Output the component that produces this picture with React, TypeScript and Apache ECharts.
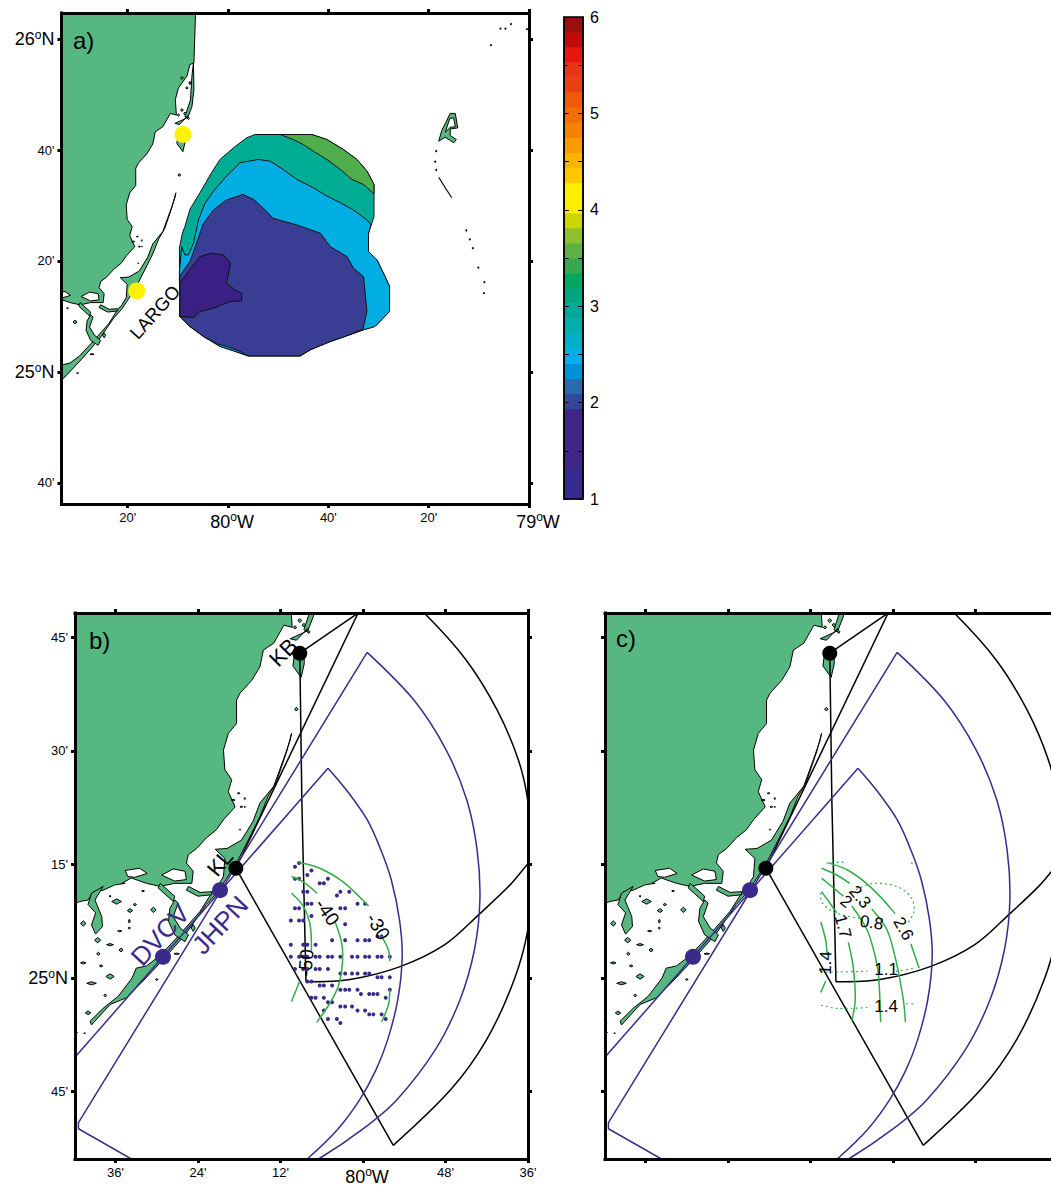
import React, { useEffect, useRef } from "react";
import * as echarts from "echarts";

type Pt = number[];
// All geography is in minutes of arc: longitude relative to 80°W (east positive), latitude relative to 25°N.
const mainland: Pt[] = [[-6.4,67],[-6.8,55.7],[-7.6,55.4],[-8.2,53.3],[-9.9,51.2],[-10.5,49.1],[-10.3,46.3],[-11.5,46.6],[-13,44.2],[-14.5,43.3],[-15,41.1],[-16.2,39.3],[-17.9,37.6],[-18.4,36.7],[-18.4,33.6],[-19.6,32.3],[-20.3,30.1],[-20.1,27.5],[-19.1,26.2],[-19.6,24.6],[-18.6,22.6],[-20.3,20.9],[-21.3,19.6],[-22.8,18.5],[-24.2,17.1],[-25.4,16.3],[-25.7,15.2],[-24.7,14.1],[-24.9,12.5],[-27.4,12.5],[-29.5,12.1],[-31.5,12.5],[-33.7,13.2],[-35.1,12.5],[-34.6,12.5],[-36.1,12.3],[-37.8,11.6],[-39.2,11.4],[-40,10.3],[-41.2,10.1],[-43,9.5],[-43,67]];
const lagoons: Pt[][] = [
  [[-29.3,13.6],[-27.6,14.4],[-25.9,14.1],[-25.7,13],[-27.4,12.8]],
  [[-34.6,14.2],[-32.5,14.5],[-31.4,13.8],[-33.2,13.3],[-34.2,13.4]],
  [[44.2,45.7],[45,45.8],[45.3,44.2],[44.3,44.1],[43.3,43.2]],
];
const largoKey: Pt[] = [[-10.4,32.3],[-11.1,29.9],[-12.6,25.9],[-13.8,24],[-15,21.3],[-16.2,19.1],[-18.4,15.2],[-19.8,13.2],[-21.3,11.2],[-22.8,9.7],[-25.7,5.9],[-29.1,2.4],[-32,-0.4],[-34.4,-2.6],[-36.8,-3.5],[-39.5,-6.2],[-39.7,-5.7],[-37.8,-4],[-35.6,-2.4],[-33.6,0],[-33,1.3],[-31.5,1.6],[-29.6,2.9],[-26.9,5.5],[-23.7,8.8],[-21.9,11.4],[-21.3,11.9],[-20.3,13.4],[-20.1,15.8],[-21.5,17],[-19.8,17.1],[-17.7,18.2],[-16,20.7],[-15,23.1],[-13,25.3],[-11.6,28.8],[-10.6,31.4]];
const eastStrip: Pt[] = [[-6.9,55.7],[-6.8,50.9],[-7.2,47.8],[-8.1,45.7],[-8.6,46],[-7.5,49],[-7.2,53.3]];
const northKey: Pt[] = [[-8.55,43.3],[-8.55,41.5],[-9,39.7],[-10.2,41.2],[-9.9,43.3]];
const northBit: Pt[] = [[-10.6,44.8],[-8.4,45.7],[-8,46.2],[-9.7,44.6]];
const sound1: Pt[] = [[-25.4,12.1],[-23.7,11.3],[-22,11.4],[-22,11],[-24,10.8],[-25.7,11.6]];
const sound2: Pt[] = [[-27.4,10.3],[-26.9,9.9],[-27.6,8.1],[-26.6,6.6],[-25.4,5.7],[-25.9,4.8],[-27.4,5.7],[-28.3,7.5],[-28.1,9.2]];
const sound3: Pt[] = [[-29.5,12.5],[-27.4,10.8],[-27.6,10.1],[-29.8,11.9]];
const sound4: Pt[] = [[-39.5,11.2],[-37.8,12.1],[-39,10.3],[-38,8.1],[-37.9,6.8],[-38.9,5.8],[-39.5,7],[-38.9,8.6],[-40,9.7]];
const bimini: Pt[] = [[42,41.6],[42.6,43.5],[44.3,46.6],[45.3,46.6],[45.8,44],[44.3,43.8],[44.3,42.6],[45.5,41.9],[45,41.3],[43.3,42.3]];
// lon, lat, half-width, half-height
const islets: number[][] = [[-35.85,10.1,.7,.35],[-33.9,8.9,.4,.25],[-33.2,9.7,.25,.15],[-30.5,9,.4,.35],[-34,7.5,.15,.25],[-34,6.6,.15,.15],[-35.4,6.2,.3,.1],[-40.7,7.2,.4,.35],[-38.6,5,.45,.35],[-36.8,4.4,.5,.15],[-35.2,3.7,.3,.25],[-38.5,3.2,.25,.2],[-40.7,2,.4,.15],[-38.1,1.6,.25,.15],[-36.8,.2,.6,.35],[-39.5,-.7,.7,.2],[-37.5,-2.3,.2,.2],[-40,-4.6,.4,.25],[-41.8,-6,.15,.25],[-41.7,-7.2,.15,.15],[-40.5,-7.3,.1,.1],[-30,-.2,.2,.1],[-27.1,3.2,.4,.1],[-24.7,6.6,.3,.45],[-9.7,35.5,.25,.25],[-18.1,24.4,.2,.08],[-17.2,23.7,.1,.15],[-18.9,23.5,.3,.1],[-17.7,22.6,.2,.1],[-17.2,22.6,.1,.1],[-17.9,19.6,.1,.1],[-36.8,10.8,.15,.1],[-32,11.5,.2,.1],[-9.2,53,.3,.25],[-7.6,52.1,.2,.3],[-8.2,51.2,.25,.2],[-9.2,47.2,.3,.25],[-8.6,46.6,.25,.25],[-9.9,46.3,.25,.2],[-7.9,45.7,.2,.2]];
const reefDots: Pt[] = [[41.5,39.8],[41.3,37.9],[41.5,36.4],[47.5,25.5],[48.2,23.9],[48.8,22.3],[49.9,18.8],[51.1,16.2],[51,14.2],[54.3,61.9],[55.3,61.9],[56.4,62.7],[52.4,58.9],[59.6,61.8]];
const reefLine: Pt[] = [[42,35.1],[43.3,33.2],[44.6,31.4]];

const contourOuter: Pt[] = [[5.4,42.8],[16.7,42.8],[19.7,41.9],[23,40.1],[25.7,38.3],[27.7,36.2],[29.1,33.8],[29.1,28],[28,25],[28,21.7],[29.7,20.2],[31.3,17.2],[32.2,15.4],[32.2,10.9],[29.3,8.2],[27,7.6],[23.3,6.4],[20.4,5.5],[16.4,4],[14.4,2.9],[4,2.9],[1.1,3.8],[-1.6,4.6],[-4.9,6.4],[-7.6,8.2],[-9.6,10],[-9.7,22.3],[-9.1,25],[-8.6,26.2],[-7.6,29.3],[-5.6,32.3],[-3.3,35.9],[-1.6,38.3],[1.1,40.4],[3.7,42.2]];
const contourGreen: Pt[] = [[10.4,42.8],[16.7,42.8],[19.7,41.9],[23,40.1],[25.7,38.3],[27.7,36.2],[29.1,33.8],[29.1,32.1],[27,33.8],[24.7,34.7],[22.4,36.5],[19.7,38.3],[17,39.8],[15,41],[13,41.9]];
const contourSky: Pt[] = [[-9.25,22.6],[-8.6,21.1],[-7.9,21.1],[-6.9,23.2],[-5.9,27.4],[-4.6,30.4],[-2.9,32.6],[-0.3,35.3],[2.4,37.7],[6,38.3],[8.4,38],[11,36.5],[13.7,34.7],[17,33.2],[19.7,31.7],[22.4,30.5],[25,29.2],[27.7,27.4],[28.5,26.5],[28,25],[28,21.7],[29.7,20.2],[31.3,17.2],[32.2,15.4],[32.2,10.9],[29.3,8.2],[27,7.6],[23.3,6.4],[20.4,5.5],[16.4,4],[14.4,2.9],[4,2.9],[1.1,3.8],[-1.6,4.6],[-4.9,6.4],[-7.6,8.2],[-9.6,10],[-9.7,18]];
const contourDark: Pt[] = [[-9.05,18.1],[-7.6,19.9],[-6.3,23.2],[-4.9,26.8],[-2.9,29.2],[-0.3,31],[3,32],[5.1,31.1],[7.4,29.2],[9,27.7],[13.7,26.5],[18.4,25],[20.4,22.6],[23.7,20.8],[25,18.7],[27,17.2],[27.7,10.9],[26.9,7.7],[23.3,6.4],[20.4,5.5],[16.4,4],[14.4,2.9],[4,2.9],[2.4,3.7],[-0.3,4.6],[-2.3,5.1],[-4.9,6.4],[-7.6,8.2],[-9.6,10],[-9.7,17]];
const contourIndigo: Pt[] = [[-9.6,16],[-7.6,18.4],[-5.6,20.8],[-3.3,21.4],[-0.9,21.1],[0.5,19.6],[-0.3,16],[1.4,14.8],[2.7,14.2],[2.7,12.8],[0.4,12.7],[-2.9,11.5],[-5.6,10.9],[-6.9,9.8],[-9.6,10]];

const siteKB: Pt = [-9.2,42.9];
const siteKL: Pt = [-18.5,14.5];
const siteJHPN: Pt = [-20.8,11.6];
const siteDVCV: Pt = [-29.1,2.8];
const sitesLargo: Pt[] = [[-9,42.8],[-18.2,14.6]];

const beamKBnorth: Pt[] = [siteKB,[0.9,49.2]];
const beamKLnorth: Pt[] = [siteKL,[0.5,50.5]];
const beamKBsouth: Pt[] = [siteKB,[-8.9,23.5],[-8.3,-0.5]];
const beamKBarc: Pt[] = [[-8.3,-0.5],[-1.9,-0.2],[5.4,1.5],[11.9,4.4],[17,8.5],[21.4,12.3],[24,15.1],[25.8,16.9]];
const beamKLarc: Pt[] = [[4.9,51.2],[8.9,48.2],[15,42],[19.5,35.4],[22.6,28.8],[24,23.3],[24.9,14.9],[24,6.5],[22,-0.2],[18,-8.1],[12.8,-14.7],[4.4,-22.1]];
const beamKLsouth: Pt[] = [siteKL,[4.4,-22.1]];
const beamAedge: Pt[] = [[-43,-11.6],[-5.1,27.7]];
const beamAarc: Pt[] = [[-5.1,27.7],[-2.4,24.8],[0.6,20.9],[2.6,16.9],[4.1,13],[5.3,7.7],[5.7,2.8],[5.05,-2.9],[3.6,-8.1],[1.9,-12.1],[-0.5,-16.1],[-3.7,-20],[-8,-23.8],[-10.6,-25.6]];
const beamBedge: Pt[] = [[0.6,43],[-41.4,-19.1],[-41.4,-19.9],[-33.7,-23.9],[-30,-26]];
const beamBarc: Pt[] = [[0.6,43],[7.4,36.7],[12.1,30.1],[15.1,23.5],[16.6,16.9],[17,10.3],[16.2,3.7],[14.1,-2.9],[10.5,-9.5],[4.9,-16.1],[-0.1,-20],[-6.3,-23.8],[-11.2,-26]];

// Panel b: rows of radar points (latitude, then longitudes)
const dotRows: number[][] = [
  [15.2,-9.3],[14.7,-9.9],[14.2,-7.5],[13.6,-8.1],[13.1,-9.9,-9.3,-5.1],[12.5,-6.3,-5.7],[11.4,-8.7,-8.1,-3.3,-2],[10.9,-3.8],
  [9.8,-8.1,-7.5,-0.8,0.3],[9.2,-9.9,-9.3,-3.3,-2.6],[8.2,-7.5],[7.6,-10.5,-9.3,-8.7],[7.1,-2.6],[5.5,2.1,2.7],
  [5,-4.5,-2.6,-0.8,0.3,0.9],[4.4,-10.5,-8.7,-8.1,-6.9],
  [2.8,-10.5,-9.3,-8.7,-8.1,-6.9,-6.3,-5.1,-4.5,-3.3,-1.6,-0.8,0.3,0.9,2.1,2.7,3.9],
  [1.2,-9.9,-8.7,-8.1,-6.9,-6.3,-5.1],[0.6,-3.3,-2.6,-1.6,-0.8,0.3,0.9],[0.1,2.1,2.7,3.9],
  [-0.45,-8.1,-7.5],[-1,-6.3,-5.7,-4.5],[-1.55,-3.3,-2.6,-2,-0.8,3.9],[-2.1,-0.3,0.9,1.5,2.1],[-2.6,-7.5,-6.9,-5.7,3.3],
  [-3.2,-5.1,-4.5],[-3.75,-3.3,-2.6,-1.6],[-4.3,-5.7,-0.8,0.3],[-4.8,0.9,1.5,2.7],[-5.4,-5.1,-3.8,3.3],[-5.95,-3.3],
];
const iso30: Pt[][] = [[[-9.4,15.3],[-6.3,14.5],[-2.9,12.7],[0.8,9.5]],[[2.7,5.5],[3.7,3.7],[3.9,2.2]],[[3.9,-1.5],[3.7,-3.5],[2.7,-5.8]]];
const iso40: Pt[][] = [[[-10.4,13.4],[-8.7,12.7],[-6.7,11.2]],[[-4.1,7.5],[-3.1,4.6],[-3,2],[-3.6,-1.1],[-4.8,-3.3],[-6.7,-5.8]]];
const iso50: Pt[][] = [[[-10.4,11.2],[-8.7,9.5],[-7.7,7],[-7.5,3.5]],[[-9.2,-0.4],[-10.4,-3.1]]];
const rmsSolid: Pt[][] = [
  [[-9.4,15.2],[-6.3,14.1],[-2.9,11.7],[0.3,8.5]],[[2.6,4.5],[3.8,1.3]],
  [[-10.4,14.5],[-8.2,13.6],[-6.3,12.5]],[[-3.1,9.1],[-0.9,6.4],[0.5,2],[1.5,-2.9],[1.8,-5.8]],
  [[-10.4,13.2],[-8.4,11.7],[-7.2,10.8]],[[-6,9.5],[-3.8,6.4],[-2.6,2.9],[-2.1,0.2],[-1.8,-5.8]],
  [[-10.4,11.4],[-9.2,9.9],[-8.2,8.6]],[[-6.5,4.7],[-5.8,1.5],[-5.5,-2.9],[-6,-5.7]],
  [[-10.5,7.4],[-9.8,5],[-9.6,3.1]],[[-9.8,-0.4],[-10.5,-1.9]],
];
const rmsDotted: Pt[][] = [
  [[-9.6,15.2],[-7.2,15.3]],[[-10.5,11.2],[-10.4,10.1],[-9.2,9],[-7.7,8.4],[-5,7.9]],
  [[-5.3,11.7],[-2.9,12.5],[0.5,12.1],[2.5,10.8],[3.1,9],[2.2,7.3]],
  [[-10.4,0.8],[-7.7,0.8],[-3.8,0.9]],[[0.5,0.9],[3.2,1.3]],[[-10.4,-3.6],[-8.2,-4],[-3.8,-3.9]],[[2,-3.4],[3.2,-3.4]],[[2.7,15.2],[2.8,15.1]],
];

const labelsA: any[][] = [["LARGO",-14.6,10.8,48]];
const labelsB: any[][] = [["-30",2.2,6.8,-58],["-40",-5.2,8.7,-55],["-50",-8.3,2,85]];
const labelsRadarB: any[][] = [["KB",-11.6,43,45],["KL",-20.8,15.2,50]];
const labelsRadarBlue: any[][] = [["DVCV",-29.5,5.7,47],["JHPN",-20.8,7,47]];
const labelsC: any[][] = [["2.3",-4.8,10.7,-50],["2",-6.8,10.1,-40],["1.7",-7.3,6.8,-75],["0.8",-3.1,7.3,-8],["2.6",1.5,6.5,-60],["1.4",-9.8,2,88],["1.1",-1,1.1,0],["1.4",-1,-3.8,0]];

const ticksAx = [-20,0,20,40,60];
const ticksAxLabels = ["20'","80|W","40'","20'","79|W"];
const ticksAy = [60,40,20,0,-20];
const ticksAyLabels = ["26|N","40'","20'","25|N","40'"];
const ticksBx = [-36,-24,-12,0,12,24];
const ticksBxLabels = ["36'","24'","12'","80|W","48'","36'"];
const ticksBy = [45,30,15,0,-15];
const ticksByLabels = ["45'","30'","15'","25|N","45'"];

const barColors = ["#372a90","#372a90","#3f2586","#3f2586","#3f2586","#3f2586","#33479c","#2a6ab0","#0090d6","#00aeea","#00b0c9","#00aeb0","#00a899","#00a67f","#00a85f","#36a852","#5cb344","#8fbe2e","#ccd500","#ffee00","#fff000","#ffc800","#fcb400","#f89a00","#f58200","#f26f00","#ee5a0a","#e9410f","#e8351a","#e5170f","#c20a0a","#9b0e0e"];

const LAND = "#57b780", BLUE = "#3a2a8c", GREEN = "#2fae47", FONT = "'Liberation Sans', Arial, sans-serif";
const panels = [
  { left: 61.5, top: 13, width: 467.5, height: 491, x: [-33.2,60], y: [-23.8,64.7], tx: ticksAx, ty: ticksAy, lx: ticksAxLabels, ly: ticksAyLabels },
  { left: 75, top: 613, width: 453, height: 546, x: [-41.9,24], y: [-23.9,48.2], tx: ticksBx, ty: ticksBy, lx: ticksBxLabels, ly: ticksByLabels },
  { left: 605, top: 613, width: 453, height: 546, x: [-41.9,24], y: [-23.9,48.2], tx: ticksBx, ty: ticksBy, lx: null as any, ly: null as any },
];

function fmt(map: number[], labels: string[] | null) {
  return (v: number) => {
    if (!labels) return "";
    const s = labels[map.indexOf(v)] ?? "";
    if (s.includes("|")) {
      const [a, b] = s.split("|");
      return `{${a === "79" ? "e" : "f"}|${a}}{s|o}{d|${b}}`;
    }
    return `{m|${s}}`;
  };
}
const rich = (xAxis: boolean) => {
  const top = xAxis ? 1 : 0;
  const base = { fontSize: 18, fontFamily: FONT, color: "#000" };
  return {
    m: { fontSize: 13, fontFamily: FONT, color: "#000" },
    d: { ...base, padding: [top,0,0,0] },
    e: { ...base, padding: [top,0,0,xAxis ? 18 : 0] },
    f: { ...base, padding: [top,0,0,xAxis ? 8 : 0] },
    s: { fontSize: 12, fontFamily: FONT, color: "#000", padding: [0,0,8,0] },
  };
};

export default function App() {
  const ref = useRef<HTMLDivElement>(null);
  useEffect(() => {
    const chart = echarts.init(ref.current!, undefined, { renderer: "svg" });
    const xAxis: any[] = [], yAxis: any[] = [], grid: any[] = [], series: any[] = [];
    const line = { show: true, onZero: false, lineStyle: { color: "#000", width: 3, cap: "square" } };
    const tick = (vals: number[]) => ({ show: true, customValues: vals, length: 4, lineStyle: { color: "#000", width: 3 } });
    panels.forEach((p) => {
      grid.push({ left: p.left, top: p.top, width: p.width, height: p.height, show: false, outerBoundsMode: "none" });
      const i = grid.length - 1;
      const xb = { type: "value", gridIndex: i, min: p.x[0], max: p.x[1], splitLine: { show: false }, axisLine: line, z: 20 };
      const yb = { type: "value", gridIndex: i, min: p.y[0], max: p.y[1], splitLine: { show: false }, axisLine: line, z: 20 };
      xAxis.push({ ...xb, position: "bottom", axisTick: tick(p.tx), axisLabel: { show: !!p.lx, customValues: p.tx, margin: 7, formatter: fmt(p.tx, p.lx), rich: rich(true) } });
      xAxis.push({ ...xb, position: "top", axisTick: tick(p.tx), axisLabel: { show: false } });
      yAxis.push({ ...yb, position: "left", axisTick: tick(p.ty), axisLabel: { show: !!p.ly, customValues: p.ty, margin: 7, formatter: fmt(p.ty, p.ly), rich: rich(false) } });
      yAxis.push({ ...yb, position: "right", axisTick: tick(p.ty), axisLabel: { show: false } });
    });

    const polys = (p: number, list: Pt[][], style: any, z = 3) => ({
      type: "custom", xAxisIndex: 2 * p, yAxisIndex: 2 * p, clip: true, silent: true, z,
      data: list.map((_, i) => [i]),
      renderItem: (params: any, api: any) => ({ type: "polygon", shape: { points: list[params.dataIndex].map((q) => api.coord(q)) }, style }),
    });
    const lines = (p: number, list: Pt[][], style: any, z = 5, smooth = 0) => ({
      type: "custom", xAxisIndex: 2 * p, yAxisIndex: 2 * p, clip: true, silent: true, z,
      data: list.map((_, i) => [i]),
      renderItem: (params: any, api: any) => ({ type: "polyline", shape: { smooth, points: list[params.dataIndex].map((q) => api.coord(q)) }, style: { fill: "none", ...style } }),
    });
    const dots = (p: number, pts: Pt[], color: string, size: number, z = 8) => ({
      type: "scatter", xAxisIndex: 2 * p, yAxisIndex: 2 * p, silent: true, z, symbolSize: size, itemStyle: { color, opacity: 1 }, data: pts,
    });
    const texts = (p: number, list: any[][], size: number, color: string, z = 12) => ({
      type: "custom", xAxisIndex: 2 * p, yAxisIndex: 2 * p, clip: false, silent: true, z,
      data: list.map((_, i) => [i]),
      renderItem: (params: any, api: any) => {
        const r = list[params.dataIndex];
        const c = api.coord([r[1], r[2]]);
        return { type: "text", x: c[0], y: c[1], rotation: (r[3] * Math.PI) / 180, style: { text: r[0], fontSize: size, fontFamily: FONT, fill: color, align: "center", verticalAlign: "middle" } };
      },
    });
    const isletPolys: Pt[][] = islets.map(([x, y, a, b]) => [[x - a, y], [x, y + b], [x + a, y], [x, y - b]]);
    const landList = [mainland, largoKey, eastStrip, northKey, northBit, sound1, sound2, sound3, sound4, bimini, ...isletPolys];
    const landStyle = { fill: LAND, stroke: "#000", lineWidth: 1 };
    const lagoonStyle = { fill: "#fff", stroke: "#000", lineWidth: 1 };

    // Panel a
    series.push(polys(0, landList, landStyle));
    series.push(polys(0, lagoons, lagoonStyle));
    series.push(polys(0, [contourOuter], { fill: "#00ad94", stroke: "#111", lineWidth: 1 }, 4));
    series.push(polys(0, [contourGreen], { fill: "#4fae4b", stroke: "#111", lineWidth: 1 }, 4));
    series.push(polys(0, [contourSky], { fill: "#00aee3", stroke: "#111", lineWidth: 1 }, 4));
    series.push(polys(0, [contourDark], { fill: "#393d93", stroke: "#111", lineWidth: 1 }, 4));
    series.push(polys(0, [contourIndigo], { fill: "#3a2084", stroke: "#111", lineWidth: 1 }, 4));
    series.push(dots(0, reefDots, "#000", 2));
    series.push(lines(0, [reefLine], { stroke: "#000", lineWidth: 1.2 }));
    series.push(dots(0, sitesLargo, "#fff200", 17));
    series.push(texts(0, labelsA, 18.5, "#000"));

    // Panels b and c share the radar layout
    [1, 2].forEach((p) => {
      series.push(polys(p, landList, landStyle));
      series.push(polys(p, lagoons, lagoonStyle));
      const blk = { stroke: "#000", lineWidth: 1.5 };
      const blu = { stroke: BLUE, lineWidth: 1.5 };
      series.push(lines(p, [beamKBnorth, beamKLnorth, beamKBsouth, beamKLsouth], blk, 6));
      series.push(lines(p, [beamKBarc, beamKLarc], blk, 6, 0.33));
      series.push(lines(p, [beamAedge], blu, 6));
      series.push(lines(p, [beamBedge], blu, 6));
      series.push(lines(p, [beamAarc, beamBarc], blu, 6, 0.33));
      series.push(dots(p, [siteKB, siteKL], "#000", 15, 9));
      series.push(dots(p, [siteJHPN, siteDVCV], BLUE, 16, 9));
    });
    const pointsB: Pt[] = dotRows.flatMap((r) => r.slice(1).map((x) => [x, r[0]]));
    series.push(dots(1, pointsB, BLUE, 4, 7));
    series.push(lines(1, [...iso30, ...iso40, ...iso50], { stroke: GREEN, lineWidth: 1.5 }, 8, 0.33));
    series.push(texts(1, labelsB, 19, "#000"));
    series.push(texts(1, labelsRadarB, 22, "#000"));
    series.push(texts(1, labelsRadarBlue, 26, BLUE));
    series.push(lines(2, rmsSolid, { stroke: GREEN, lineWidth: 1.5 }, 8, 0.33));
    series.push(lines(2, rmsDotted, { stroke: GREEN, lineWidth: 1.2, lineDash: [1, 4], lineCap: "round" }, 8, 0.33));
    series.push(texts(2, labelsC, 17, "#000"));

    // Colour bar
    grid.push({ left: 564, top: 17, width: 19, height: 482, show: false, outerBoundsMode: "none" });
    const g = grid.length - 1;
    xAxis.push({ type: "value", gridIndex: g, min: 0, max: 1, show: false });
    const xi = xAxis.length - 1;
    const barTick = { show: true, inside: true, length: 5, lineStyle: { color: "#000", width: 1 } };
    const barBase = { type: "value", gridIndex: g, min: 1, max: 6, interval: 0.5, splitLine: { show: false }, z: 20, axisLine: { show: true, onZero: false, lineStyle: { color: "#000", width: 1.5 } } };
    yAxis.push({ ...barBase, position: "left", axisTick: barTick, axisLabel: { show: false } });
    const yi = yAxis.length - 1;
    yAxis.push({ ...barBase, position: "right", axisTick: barTick, axisLabel: { margin: 7, fontSize: 16, fontFamily: FONT, color: "#000", formatter: (v: number) => (Number.isInteger(v) ? String(v) : "") } });
    const step = 5 / barColors.length;
    series.push({
      type: "custom", xAxisIndex: xi, yAxisIndex: yi, silent: true, z: 3,
      data: barColors.map((_, i) => [i]),
      renderItem: (params: any, api: any) => {
        const i = params.dataIndex;
        const a = api.coord([0, 1 + (i + 1) * step]);
        const b = api.coord([1, 1 + i * step]);
        return { type: "rect", shape: { x: a[0], y: a[1], width: b[0] - a[0], height: b[1] - a[1] + 0.5 }, style: { fill: barColors[i] } };
      },
    });
    series.push({
      type: "custom", xAxisIndex: xi, yAxisIndex: yi, silent: true, z: 5, data: [[0]],
      renderItem: (_: any, api: any) => {
        const a = api.coord([0, 6]); const b = api.coord([1, 1]);
        return { type: "rect", shape: { x: a[0], y: a[1], width: b[0] - a[0], height: b[1] - a[1] }, style: { fill: "none", stroke: "#000", lineWidth: 1.5 } };
      },
    });

    chart.setOption({
      animation: false,
      backgroundColor: "#fff",
      grid, xAxis, yAxis, series,
      graphic: [
        { type: "text", x: 73, y: 28, z: 30, style: { text: "a)", fontSize: 24, fontFamily: FONT, fill: "#000" } },
        { type: "text", x: 89, y: 628, z: 30, style: { text: "b)", fontSize: 24, fontFamily: FONT, fill: "#000" } },
        { type: "text", x: 616, y: 626, z: 30, style: { text: "c)", fontSize: 24, fontFamily: FONT, fill: "#000" } },
      ],
    });
    return () => chart.dispose();
  }, []);
  return <div ref={ref} style={{ position: "absolute", left: 0, top: 0, width: 1051, height: 1187, overflow: "hidden" }} />;
}
